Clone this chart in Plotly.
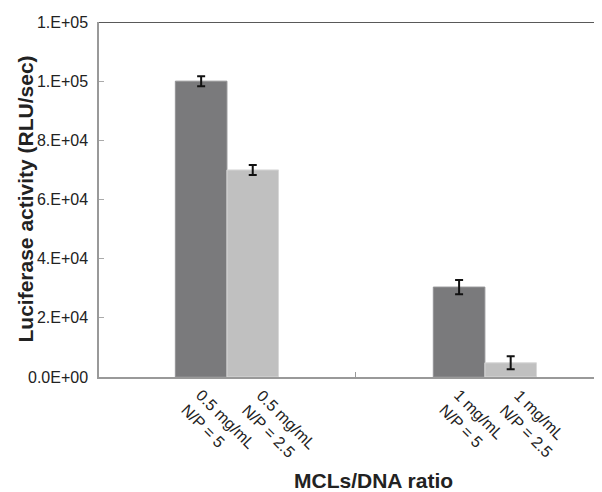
import plotly.graph_objects as go

# ---- data ----
groups = ["0.5 mg/mL", "1 mg/mL"]
np5_values = [100000, 30400]
np5_errors = [1700, 2400]
np25_values = [70000, 4800]
np25_errors = [1700, 2200]
bar_labels = [
    "0.5 mg/mL<br>N/P = 5", "0.5 mg/mL<br>N/P = 2.5",
    "1 mg/mL<br>N/P = 5", "1 mg/mL<br>N/P = 2.5",
]
y_tickvals = [0, 20000, 40000, 60000, 80000, 100000, 120000]
y_ticktext = ["0.0E+00", "2.E+04", "4.E+04", "6.E+04", "8.E+04", "1.E+05", "1.E+05"]

FONT = "Liberation Sans, Arial, sans-serif"

fig = go.Figure()
fig.add_trace(go.Bar(
    x=[0, 1], y=np5_values, name="N/P = 5",
    marker=dict(color="#7a7a7c", line=dict(color="#939395", width=1)),
    error_y=dict(type="data", array=np5_errors, color="#111111", thickness=2, width=4),
))
fig.add_trace(go.Bar(
    x=[0, 1], y=np25_values, name="N/P = 2.5",
    marker=dict(color="#c0c0c0", line=dict(color="#d8d8d8", width=1)),
    error_y=dict(type="data", array=np25_errors, color="#111111", thickness=2, width=4),
))

# rotated category labels (left edge of rotated box, in category units)
label_offsets = [-0.2, 0.034]
annotations = []
k = 0
for gi in range(len(groups)):
    for off in label_offsets:
        annotations.append(dict(
            x=gi + off, y=0, xref="x", yref="y",
            xanchor="left", yanchor="top", yshift=-7,
            text=bar_labels[k], showarrow=False, textangle=45, align="left",
            font=dict(family=FONT, size=16, color="#222222"),
        ))
        k += 1

annotations.append(dict(
    x=0.546, y=0, xref="paper", yref="paper", yshift=-103,
    xanchor="center", yanchor="middle", showarrow=False,
    text="<b>MCLs/DNA ratio</b>",
    font=dict(family=FONT, size=21, color="#222222"),
))
annotations.append(dict(
    x=0, y=0.5, xref="paper", yref="paper", xshift=-74,
    xanchor="center", yanchor="middle", showarrow=False, textangle=-90,
    text="<b>Luciferase activity (RLU/sec)</b>",
    font=dict(family=FONT, size=21, color="#222222"),
))

fig.update_layout(
    width=594, height=484,
    margin=dict(l=91, r=0, t=14, b=115),
    plot_bgcolor="white", paper_bgcolor="white",
    showlegend=False,
    barmode="group", bargap=0.6, bargroupgap=0,
    annotations=annotations,
    shapes=[dict(type="line", xref="paper", yref="y", x0=0, x1=0.995,
                 y0=120000, y1=120000, line=dict(color="#222222", width=1.5))],
)
fig.update_xaxes(
    range=[-0.496, 1.454], tickvals=[0.5], ticktext=[""],
    ticks="inside", ticklen=5, tickcolor="#999999",
    showline=True, linecolor="#999999", linewidth=1.5,
    showgrid=False, zeroline=False, showticklabels=False,
)
fig.update_yaxes(
    range=[0, 120000], tickvals=y_tickvals, ticktext=y_ticktext,
    ticks="inside", ticklen=5, tickcolor="#aaaaaa",
    showline=True, linecolor="#999999", linewidth=1.5,
    showgrid=False, zeroline=False, ticklabelstandoff=6,
    tickfont=dict(family=FONT, size=16, color="#222222"),
)

fig.write_html("out.html")
